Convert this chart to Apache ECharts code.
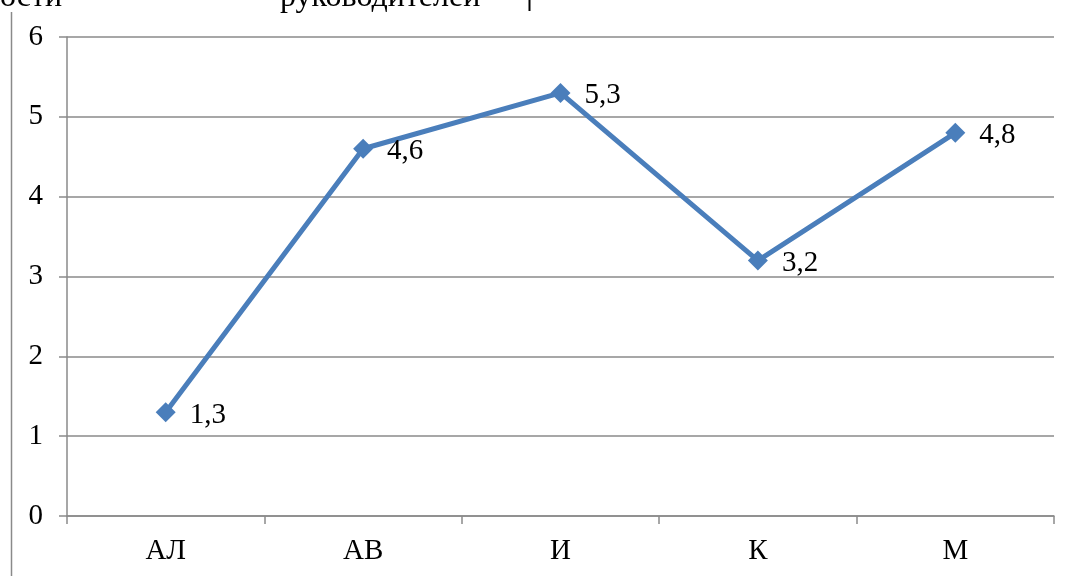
<!DOCTYPE html>
<html>
<head>
<meta charset="utf-8">
<script src="https://cdn.jsdelivr.net/npm/echarts@6/dist/echarts.min.js"></script>
<style>
html,body{margin:0;padding:0;background:#fff;}
#c{width:1069px;height:576px;}
</style>
</head>
<body>
<div id="c"></div>
<script>
const categories = ['АЛ', 'АВ', 'И', 'К', 'М'];
const values = [1.3, 4.6, 5.3, 3.2, 4.8];
const yTicks = [0, 1, 2, 3, 4, 5, 6];
const headerTexts = ['ности', 'руководителей'];

const chart = echarts.init(document.getElementById('c'), null, {renderer: 'canvas'});
const serif = '"Liberation Serif", "Times New Roman", serif';
const gray = '#8a8a8a';

chart.setOption({
  animation: false,
  backgroundColor: '#fff',
  grid: {left: 67, right: 15, top: 37, bottom: 60, containLabel: false},
  xAxis: {
    type: 'category',
    data: categories,
    boundaryGap: true,
    axisLine: {show: true, lineStyle: {color: gray, width: 1.5}},
    axisTick: {show: true, length: 8, inside: false, lineStyle: {color: gray, width: 1.5}},
    axisLabel: {color: '#000', fontFamily: serif, fontSize: 29, margin: 21},
    splitLine: {show: false}
  },
  yAxis: {
    type: 'value',
    min: yTicks[0],
    max: yTicks[yTicks.length - 1],
    interval: 1,
    axisLine: {show: true, lineStyle: {color: gray, width: 1.5}},
    axisTick: {show: true, length: 8, lineStyle: {color: gray, width: 1.5}},
    axisLabel: {color: '#000', fontFamily: serif, fontSize: 29, margin: 24},
    splitLine: {show: true, lineStyle: {color: gray, width: 1.5}}
  },
  series: [{
    type: 'line',
    data: values,
    symbol: 'diamond',
    symbolSize: 20,
    lineStyle: {color: '#4a7ebb', width: 5},
    itemStyle: {color: '#4a7ebb'},
    label: {
      show: true,
      position: 'right',
      distance: 14,
      offset: [0, 3],
      color: '#000',
      fontFamily: serif,
      fontSize: 29,
      formatter: p => String(p.value).replace('.', ',')
    }
  }],
  graphic: [
    {type: 'line', shape: {x1: 11.5, y1: 12, x2: 11.5, y2: 576}, style: {stroke: '#8a8a8a', lineWidth: 1.5}},
    {type: 'line', shape: {x1: 529.5, y1: 0, x2: 529.5, y2: 11}, style: {stroke: '#000', lineWidth: 2}},
    {type: 'text', x: 62, y: 14, style: {text: headerTexts[0], fill: '#000', font: '32px ' + serif, align: 'right', verticalAlign: 'bottom'}},
    {type: 'text', x: 280, y: 14, style: {text: headerTexts[1], fill: '#000', font: '32px ' + serif, align: 'left', verticalAlign: 'bottom'}}
  ]
});
</script>
</body>
</html>
